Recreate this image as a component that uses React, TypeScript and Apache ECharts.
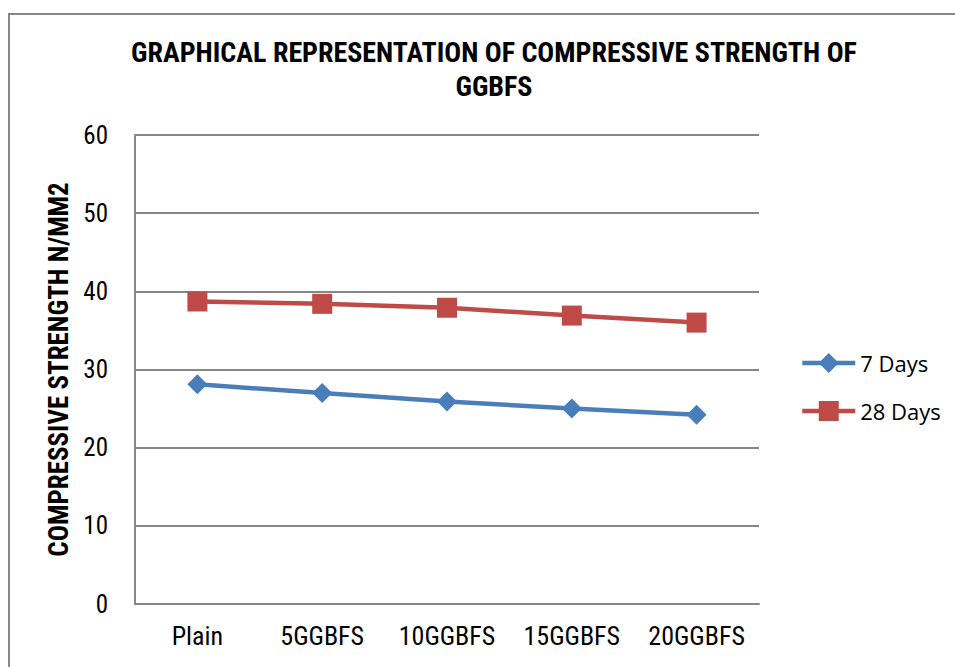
import React, { useEffect, useRef } from "react";
import * as echarts from "echarts";

const categories = ["Plain", "5GGBFS", "10GGBFS", "15GGBFS", "20GGBFS"];
const days7 = [28.1, 27.0, 25.9, 25.0, 24.2];
const days28 = [38.7, 38.4, 37.9, 36.9, 36.0];
const seriesNames = ["7 Days", "28 Days"];
const titleText = "GRAPHICAL REPRESENTATION OF COMPRESSIVE STRENGTH OF\nGGBFS";
const yAxisName = "COMPRESSIVE STRENGTH N/MM2";

const NARROW = '"Liberation Sans Narrow", "Arial Narrow", "Roboto Condensed", "DejaVu Sans Condensed", sans-serif';

export default function App() {
  const ref = useRef<HTMLDivElement>(null);
  useEffect(() => {
    if (!ref.current) return;
    const chart = echarts.init(ref.current, null, { renderer: "svg" });
    chart.setOption({
      animation: false,
      backgroundColor: "#ffffff",
      graphic: [
        {
          type: "rect",
          shape: { x: 9, y: 14, width: 960, height: 670 },
          style: { fill: "none", stroke: "#868686", lineWidth: 2 },
          silent: true,
        },
      ],
      title: {
        text: titleText,
        left: 489,
        top: 30,
        textAlign: "center",
        textStyle: {
          fontFamily: NARROW,
          fontWeight: "bold",
          fontSize: 28,
          lineHeight: 34,
          color: "#000",
        },
      },
      legend: {
        orient: "vertical",
        left: 795,
        top: 347,
        itemWidth: 53,
        itemHeight: 25,
        itemGap: 26,
        data: seriesNames,
        lineStyle: { width: 4.5 },
        textStyle: {
          fontFamily: '"Open Sans", "Liberation Sans", sans-serif',
          fontSize: 22,
          color: "#000",
        },
      },
      grid: { left: 135, right: 196, top: 135, bottom: 63, containLabel: false },
      xAxis: {
        type: "category",
        data: categories,
        boundaryGap: true,
        axisLine: { show: true, lineStyle: { color: "#868686", width: 2 } },
        axisTick: { show: false },
        axisLabel: {
          interval: 0,
          hideOverlap: false,
          fontFamily: NARROW,
          fontSize: 26,
          color: "#000",
          margin: 19,
        },
      },
      yAxis: {
        type: "value",
        min: 0,
        max: 60,
        interval: 10,
        name: yAxisName,
        nameLocation: "middle",
        nameRotate: 90,
        nameGap: 60,
        nameTextStyle: {
          fontFamily: NARROW,
          fontWeight: "bold",
          fontSize: 27,
          color: "#000",
        },
        axisLine: { show: true, lineStyle: { color: "#868686", width: 2 } },
        axisTick: { show: false },
        splitLine: { show: true, lineStyle: { color: "#868686", width: 2 } },
        axisLabel: {
          fontFamily: NARROW,
          fontSize: 25,
          color: "#000",
          margin: 27,
        },
      },
      series: [
        {
          name: seriesNames[0],
          type: "line",
          data: days7,
          symbol: "diamond",
          symbolSize: 20,
          lineStyle: { color: "#4a7ebb", width: 4.5 },
          itemStyle: { color: "#4a7ebb" },
        },
        {
          name: seriesNames[1],
          type: "line",
          data: days28,
          symbol: "rect",
          symbolSize: 20,
          lineStyle: { color: "#be4b48", width: 4.5 },
          itemStyle: { color: "#be4b48" },
        },
      ],
    });
    return () => chart.dispose();
  }, []);
  return <div ref={ref} style={{ width: 955, height: 667, position: "absolute", left: 0, top: 0 }} />;
}
